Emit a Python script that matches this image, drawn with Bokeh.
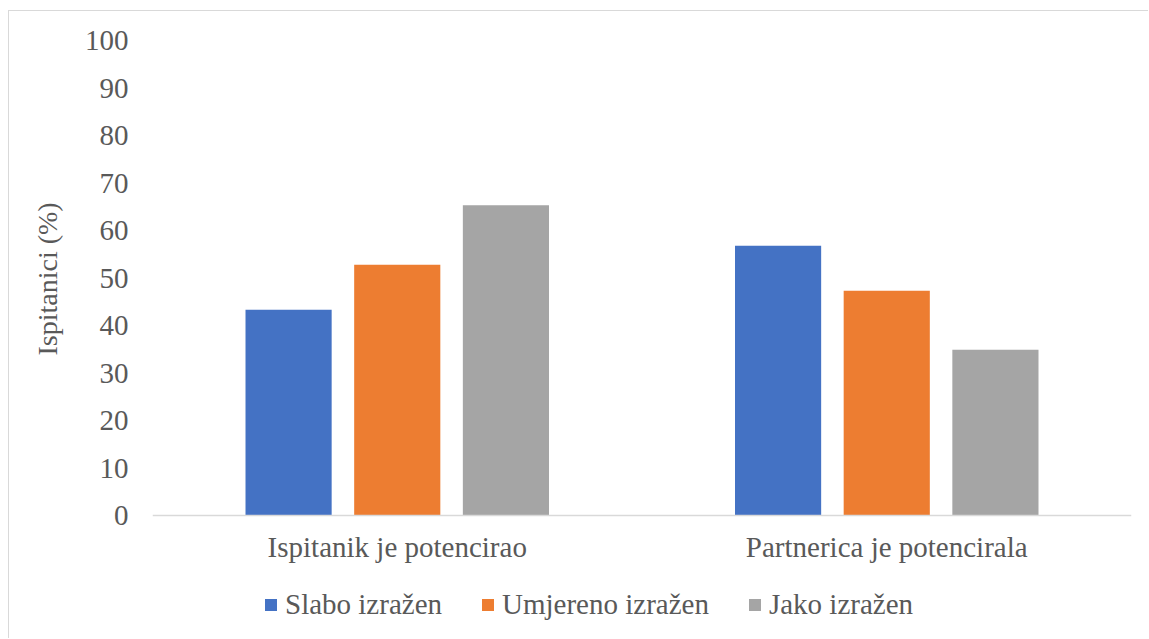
from bokeh.plotting import figure
from bokeh.models import ColumnDataSource, FactorRange, Range1d, Legend, LegendItem, FixedTicker, Title
from bokeh.transform import dodge
from bokeh.embed import file_html
from bokeh.resources import INLINE

categories = ["Ispitanik je potencirao", "Partnerica je potencirala"]
series_names = ["Slabo izražen", "Umjereno izražen", "Jako izražen"]
slabo = [43.3, 56.8]
umjereno = [52.8, 47.3]
jako = [65.3, 34.9]
colors = ["#4472C4", "#ED7D31", "#A5A5A5"]
y_ticks = [0, 10, 20, 30, 40, 50, 60, 70, 80, 90, 100]
y_title = "Ispitanici (%)"

source = ColumnDataSource(data=dict(cat=categories, slabo=slabo, umjereno=umjereno, jako=jako))

FONT = "Liberation Serif"
TXT = "#595959"

W, H = 1140, 628
TOP, LEFT, RIGHT = 29, 143, 18
PX_PER_UNIT = 4.75
y_start = 100 - (H - TOP) / PX_PER_UNIT

p = figure(x_range=FactorRange(factors=categories, range_padding=0),
           y_range=Range1d(y_start, 100),
           width=W, height=H, output_backend="svg", toolbar_location=None,
           min_border_left=LEFT, min_border_right=RIGHT, min_border_top=TOP, min_border_bottom=0)
p.styles = {"margin-left": "8px", "margin-top": "10px",
            "border-top": "1px solid #D9D9D9", "border-left": "1px solid #D9D9D9"}
p.outline_line_color = None
p.xgrid.grid_line_color = None
p.ygrid.grid_line_color = None

offs = [-0.222, 0.0, 0.222]
renderers = []
for key, off, col in zip(["slabo", "umjereno", "jako"], offs, colors):
    r = p.vbar(x=dodge("cat", off, range=p.x_range), top=key, width=0.176, source=source,
               fill_color=col, line_color=None)
    renderers.append(r)

# axes
p.xaxis.fixed_location = 0
p.xaxis.axis_line_color = "#D9D9D9"
p.xaxis.axis_line_width = 1.5
p.xaxis.major_tick_line_color = None
p.xaxis.minor_tick_line_color = None
p.xaxis.major_label_text_font = FONT
p.xaxis.major_label_text_font_size = "29px"
p.xaxis.major_label_text_color = TXT
p.xaxis.major_label_standoff = 9

p.yaxis.ticker = FixedTicker(ticks=y_ticks)
p.yaxis.axis_line_color = None
p.yaxis.major_tick_line_color = None
p.yaxis.minor_tick_line_color = None
p.yaxis.major_label_text_font = FONT
p.yaxis.major_label_text_font_size = "29px"
p.yaxis.major_label_text_color = TXT
p.yaxis.major_label_standoff = 18

# y axis title placed in the left panel, centred on the 0-100 scale
p.add_layout(Title(text=y_title, align="left", offset=284, standoff=38,
                   text_font=FONT, text_font_size="28px", text_font_style="normal",
                   text_color=TXT), "left")

legend = Legend(items=[LegendItem(label=n, renderers=[r]) for n, r in zip(series_names, renderers)],
                orientation="horizontal", location=(111, 18),
                label_text_font=FONT, label_text_font_size="29px", label_text_color=TXT,
                glyph_width=15, glyph_height=15, label_standoff=7, spacing=38,
                border_line_color=None, background_fill_alpha=0, margin=0, padding=0)
p.add_layout(legend, "center")

open("out.html", "w").write(file_html(p, INLINE))
